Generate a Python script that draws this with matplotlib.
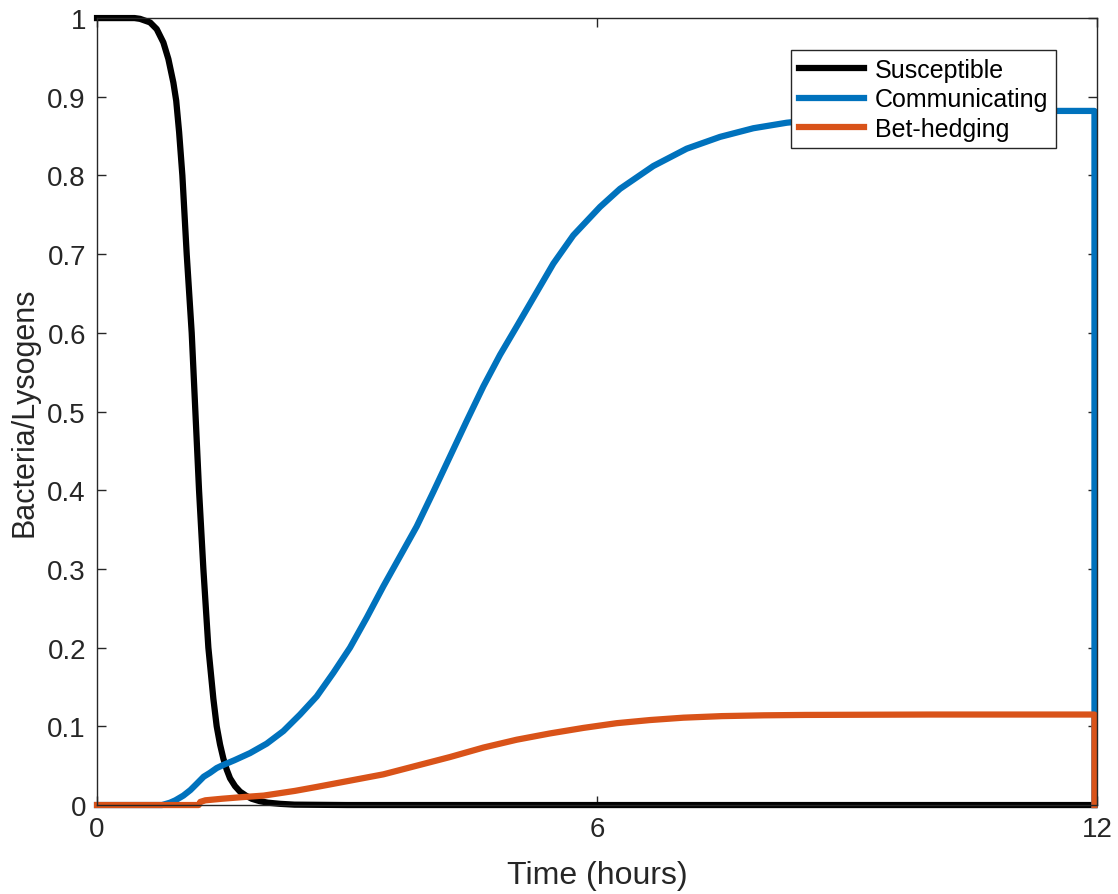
import matplotlib
matplotlib.use("Agg")
import matplotlib.pyplot as plt

plt.rcParams['font.family'] = ['Liberation Sans', 'DejaVu Sans']

# Values (time in hours)
t_sus = [0, 0.45, 0.516, 0.636, 0.716, 0.796, 0.856, 0.916, 0.95, 0.985, 1.024,
         1.076, 1.136, 1.18, 1.224, 1.276, 1.336, 1.396, 1.436, 1.476, 1.516,
         1.556, 1.596, 1.656, 1.716, 1.786, 1.856, 1.95, 2.05, 2.2, 2.37, 3.0,
         11.97, 11.97]
susceptible = [1, 1, 0.999, 0.9945, 0.986, 0.969, 0.948, 0.918, 0.895, 0.855, 0.8,
               0.7, 0.6, 0.5, 0.4, 0.3, 0.2, 0.135, 0.1, 0.077, 0.059,
               0.045, 0.034, 0.024, 0.017, 0.012, 0.008, 0.005, 0.003, 0.0015,
               0.0005, 0, 0, 0]

t_com = [0, 0.78, 0.876, 0.94, 1.036, 1.12, 1.196, 1.28, 1.356, 1.436, 1.516,
         1.65, 1.836, 2.036, 2.236, 2.436, 2.636, 2.836, 3.036, 3.236, 3.436,
         3.636, 3.836, 4.036, 4.236, 4.436, 4.636, 4.836, 5.036, 5.256, 5.476,
         5.716, 6.036, 6.276, 6.676, 7.076, 7.476, 7.876, 8.276, 9.0, 10.0,
         11.0, 11.97, 11.97]
communicating = [0, 0, 0.003, 0.006, 0.012, 0.019, 0.027, 0.036, 0.041, 0.047,
                 0.051, 0.057, 0.066, 0.078, 0.094, 0.115, 0.138, 0.168, 0.200,
                 0.238, 0.278, 0.316, 0.354, 0.398, 0.443, 0.488, 0.532, 0.572,
                 0.608, 0.648, 0.688, 0.724, 0.760, 0.783, 0.812, 0.834, 0.849,
                 0.860, 0.867, 0.875, 0.880, 0.882, 0.882, 0]

t_bet = [0, 1.22, 1.24, 1.3, 1.5, 1.736, 2.0, 2.376, 2.636, 3.036, 3.436, 3.836,
         4.236, 4.636, 5.036, 5.436, 5.836, 6.236, 6.636, 7.036, 7.5, 8.0, 8.5,
         10.0, 11.97, 11.97]
bet_hedging = [0, 0, 0.004, 0.006, 0.008, 0.010, 0.012, 0.018, 0.023, 0.031,
               0.039, 0.050, 0.061, 0.073, 0.083, 0.091, 0.098, 0.104, 0.108,
               0.111, 0.113, 0.114, 0.1145, 0.115, 0.115, 0]

fig = plt.figure(figsize=(11.18, 8.95), dpi=100)
ax = fig.add_axes([0.0868, 0.0994, 0.8944, 0.8793])

ax.plot(t_sus, susceptible, color='black', lw=4.5, label='Susceptible', clip_on=False, zorder=3)
ax.plot(t_com, communicating, color='#0072BD', lw=4.5, label='Communicating', clip_on=False, zorder=3)
ax.plot(t_bet, bet_hedging, color='#D95319', lw=4.5, label='Bet-hedging', clip_on=False, zorder=3)

ax.set_xlim(0, 12)
ax.set_ylim(0, 1)
ax.set_xticks([0, 6, 12])
ax.set_yticks([i / 10 for i in range(11)])
ax.set_yticklabels(['0'] + ['0.%d' % i for i in range(1, 10)] + ['1'])

axis_col = '#262626'
for s in ax.spines.values():
    s.set_color(axis_col)
    s.set_linewidth(1.0)
    s.set_zorder(4)
ax.tick_params(direction='in', length=6.5, width=1.0, colors=axis_col,
               labelsize=20, top=True, right=True, pad=8)

ax.set_xlabel('Time (hours)', fontsize=23, color='#262626', labelpad=13)
ax.set_ylabel('Bacteria/Lysogens', fontsize=22, color='#262626', labelpad=5.5)

leg = ax.legend(loc='upper right', bbox_to_anchor=(0.959, 0.959), fontsize=18,
                fancybox=False, framealpha=1, edgecolor=axis_col,
                handlelength=2.6, labelspacing=0.22, borderpad=0.3,
                handletextpad=0.45, borderaxespad=0)
leg.get_frame().set_linewidth(1.0)

plt.savefig('out.png', dpi=100)
